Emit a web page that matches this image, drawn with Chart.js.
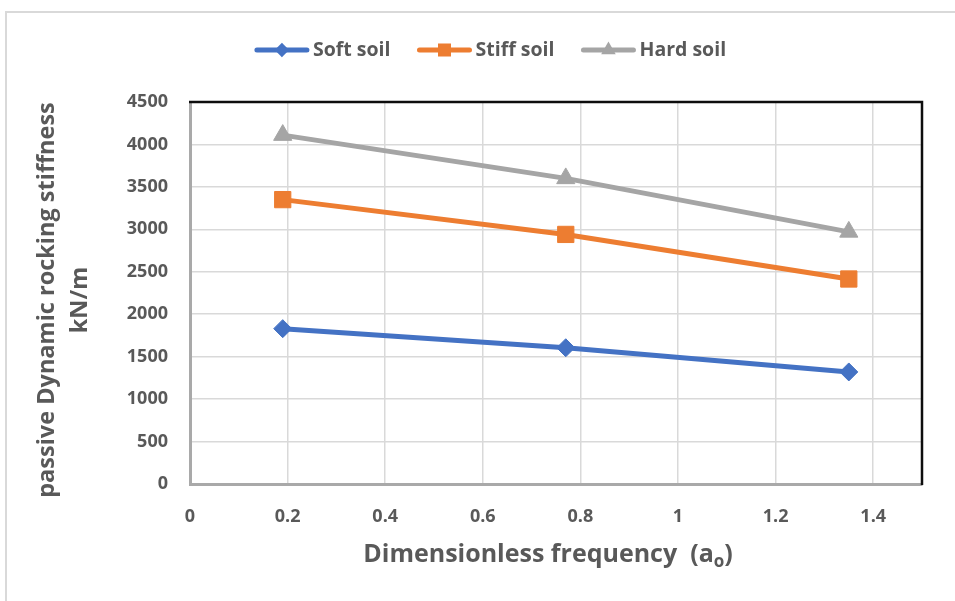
<!DOCTYPE html>
<html>
<head>
<meta charset="utf-8">
<script src="https://cdn.jsdelivr.net/npm/chart.js@4/dist/chart.umd.min.js"></script>
<style>
  html, body { margin: 0; padding: 0; background: #fff; overflow: hidden; }
  #wrap { position: relative; width: 955px; height: 601px; overflow: hidden; background: #fff; }
  #frame { position: absolute; left: 5px; top: 11px; width: 1000px; height: 700px; border: 2px solid #d9d9d9; }
  #c { position: absolute; left: 0; top: 0; }
</style>
</head>
<body>
<div id="wrap">
  <div id="frame"></div>
  <canvas id="c" width="955" height="601"></canvas>
</div>
<script>
// Dimensionless frequency a0 at which the stiffness was evaluated
const frequency = [0.19, 0.77, 1.35];

// Passive dynamic rocking stiffness (kN/m) per soil type
const softSoil  = [1830, 1605, 1320];
const stiffSoil = [3350, 2940, 2415];
const hardSoil  = [4110, 3600, 2970];

const seriesNames = ['Soft soil', 'Stiff soil', 'Hard soil'];

// Axis ticks
const xTicks = [0, 0.2, 0.4, 0.6, 0.8, 1, 1.2, 1.4];
const yTicks = [0, 500, 1000, 1500, 2000, 2500, 3000, 3500, 4000, 4500];

// Axis titles
const yTitle = ['passive Dynamic rocking stiffness', 'kN/m'];
const xTitleMain = 'Dimensionless frequency  (a';
const xTitleSub = 'o';
const xTitleEnd = ')';

const FONT = '"Open Sans", Lato, sans-serif';
const TEXT = '#595959';

const toPoints = vals => vals.map((v, i) => ({ x: frequency[i], y: v }));

// Legend drawn as line + marker swatches, centred above the plot
const lineLegend = {
  id: 'lineLegend',
  afterDraw(chart) {
    const ctx = chart.ctx;
    const sw = 56, gap = 3, itemGap = 26;
    ctx.save();
    ctx.font = 'bold 19.5px ' + FONT;
    const items = chart.data.datasets.map(ds => ({ ds, w: sw + gap + ctx.measureText(ds.label).width }));
    const total = items.reduce((s, it) => s + it.w, 0) + itemGap * (items.length - 1);
    let x = 490 - total / 2;
    const y = 50;
    items.forEach(it => {
      const ds = it.ds;
      ctx.strokeStyle = ds.borderColor;
      ctx.lineWidth = 5;
      ctx.lineCap = 'round';
      ctx.beginPath();
      ctx.moveTo(x + 3, y);
      ctx.lineTo(x + sw - 3, y);
      ctx.stroke();
      ctx.fillStyle = ds.borderColor;
      Chart.helpers.drawPoint(ctx, {
        pointStyle: ds.pointStyle, radius: ds.pointRadius * 0.8, rotation: 0, borderWidth: 0
      }, x + sw / 2, y);
      ctx.fillStyle = TEXT;
      ctx.textBaseline = 'middle';
      ctx.textAlign = 'left';
      ctx.fillText(ds.label, x + sw + gap, y);
      x += it.w + itemGap;
    });
    ctx.restore();
  }
};

// Black top/right plot edge and the two axis titles
const plotFrame = {
  id: 'plotFrame',
  afterDraw(chart) {
    const { ctx, chartArea: a } = chart;
    ctx.save();
    ctx.strokeStyle = '#0d0d0d';
    ctx.lineWidth = 2.5;
    ctx.beginPath();
    ctx.moveTo(a.left - 1, a.top);
    ctx.lineTo(a.right, a.top);
    ctx.lineTo(a.right, a.bottom + 1);
    ctx.stroke();

    // x-axis title with subscripted o
    ctx.fillStyle = TEXT;
    ctx.textBaseline = 'alphabetic';
    ctx.textAlign = 'left';
    const big = 'bold 25px ' + FONT, small = 'bold 17px ' + FONT;
    ctx.font = big;
    const w1 = ctx.measureText(xTitleMain).width;
    const w3 = ctx.measureText(xTitleEnd).width;
    ctx.font = small;
    const w2 = ctx.measureText(xTitleSub).width;
    let x = 548 - (w1 + w2 + w3) / 2;
    const base = 562;
    ctx.font = big;
    ctx.fillText(xTitleMain, x, base);
    x += w1;
    ctx.font = small;
    ctx.fillText(xTitleSub, x, base + 5);
    x += w2;
    ctx.font = big;
    ctx.fillText(xTitleEnd, x, base);

    // y-axis title, two rotated lines
    ctx.font = 'bold 23.5px ' + FONT;
    ctx.textAlign = 'center';
    ctx.textBaseline = 'middle';
    ctx.translate(0, 300);
    ctx.rotate(-Math.PI / 2);
    ctx.fillText(yTitle[0], 0, 47);
    ctx.fillText(yTitle[1], 0, 80);
    ctx.restore();
  }
};

const colors = ['#4472C4', '#ED7D31', '#A5A5A5'];
const styles = [
  { pointStyle: 'rectRot', pointRadius: 9 },
  { pointStyle: 'rect', pointRadius: 11.5 },
  { pointStyle: 'triangle', pointRadius: 10.5 }
];

const series = [softSoil, stiffSoil, hardSoil];

new Chart(document.getElementById('c'), {
  type: 'line',
  data: {
    datasets: series.map((vals, i) => ({
      label: seriesNames[i],
      data: toPoints(vals),
      borderColor: colors[i],
      backgroundColor: colors[i],
      pointBackgroundColor: colors[i],
      pointBorderColor: colors[i],
      pointBorderWidth: 1,
      borderWidth: 5,
      tension: 0,
      clip: false,
      ...styles[i]
    }))
  },
  options: {
    responsive: false,
    animation: false,
    devicePixelRatio: 1,
    layout: { padding: { top: 102, right: 33, left: 0, bottom: 0 } },
    plugins: {
      legend: { display: false },
      tooltip: { enabled: false }
    },
    scales: {
      x: {
        type: 'linear',
        min: 0,
        max: 1.5,
        afterBuildTicks: s => { s.ticks = xTicks.map(v => ({ value: v })); },
        afterFit: s => { s.height = 117; },
        grid: { color: '#d9d9d9', lineWidth: 1.5, drawTicks: false },
        border: { display: true, color: '#a9a9a9', width: 3 },
        ticks: {
          padding: 22,
          color: TEXT,
          font: { family: FONT, size: 18, weight: 'bold' },
          callback: v => String(+Number(v).toFixed(1))
        }
      },
      y: {
        type: 'linear',
        min: 0,
        max: 4500,
        afterBuildTicks: s => { s.ticks = yTicks.map(v => ({ value: v })); },
        afterFit: s => { s.width = 190; },
        grid: { color: '#d9d9d9', lineWidth: 1.5, drawTicks: false },
        border: { display: true, color: '#a9a9a9', width: 3 },
        ticks: {
          padding: 22,
          color: TEXT,
          font: { family: FONT, size: 18, weight: 'bold' },
          callback: v => String(v)
        }
      }
    }
  },
  plugins: [lineLegend, plotFrame]
});
</script>
</body>
</html>
